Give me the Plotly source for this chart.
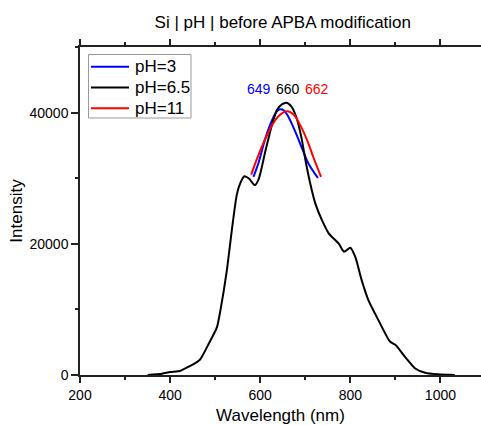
import plotly.graph_objects as go

# pH = 6.5 measured spectrum
wl_65 = [350, 382, 400, 423, 445, 456, 467, 486, 504, 512, 526, 537, 548, 556, 565, 575, 588, 597,
         611, 626, 637, 648, 659, 670, 681, 692, 701, 711, 722, 737, 752, 774, 786, 800, 811, 825,
         840, 862, 888, 901, 921, 944, 966, 995, 1032]
int_65 = [0, 200, 450, 650, 1400, 1800, 2400, 4800, 7300, 10000, 16000, 22100, 27500, 29300, 30300,
          29950, 28950, 29950, 34000, 38100, 40400, 41250, 41500, 40850, 39100, 36000, 32500, 29200,
          26200, 23600, 21600, 20050, 18800, 19400, 18000, 14500, 11400, 8400, 5100, 4550, 2800,
          1000, 350, 100, 0]

# pH = 3 fitted peak
wl_3 = [585, 597, 611, 626, 637, 644, 652, 663, 678, 693, 707, 728]
int_3 = [30200, 32500, 36000, 38800, 40200, 40500, 40350, 39300, 37050, 34500, 32250, 30050]

# pH = 11 fitted peak
wl_11 = [580, 593, 608, 626, 641, 660, 674, 689, 704, 719, 735]
int_11 = [30550, 33000, 35500, 38050, 39500, 40200, 39700, 38050, 35800, 33000, 30200]

series_names = ["pH=3", "pH=6.5", "pH=11"]
series_colors = ["#0000FF", "#000000", "#FF0000"]

peak_labels = ["649", "660", "662"]
peak_x = [597, 661, 727]

FONT = "Arial, 'Liberation Sans', sans-serif"

W, H = 481, 425
ML, MR, MT, MB = 80, 0, 47, 50
PW, PH = W - ML - MR, H - MT - MB


def px_x(p):
    return (p - ML) / PW


def px_y(p):
    return (H - MB - p) / PH


fig = go.Figure()
for xs, ys, nm, col in zip([wl_3, wl_65, wl_11], [int_3, int_65, int_11], series_names, series_colors):
    fig.add_trace(go.Scatter(x=xs, y=ys, mode="lines", name=nm, showlegend=False,
                             line=dict(color=col, width=2, shape="spline",
                                       smoothing=0.6 if nm == "pH=6.5" else 1)))

for lab, col, px in zip(peak_labels, series_colors, peak_x):
    fig.add_annotation(x=px, y=43550, text=lab, showarrow=False,
                       font=dict(family=FONT, size=14, color=col))

# legend box drawn in paper space
fig.add_shape(type="rect", xref="paper", yref="paper",
              x0=px_x(88.5), x1=px_x(191), y0=px_y(118), y1=px_y(54.5),
              line=dict(color="#999", width=1), fillcolor="white", layer="above")
leg_y = [66.7, 87.5, 108.3]
for nm, col, ly in zip(series_names, series_colors, leg_y):
    fig.add_shape(type="line", xref="paper", yref="paper",
                  x0=px_x(91), x1=px_x(129), y0=px_y(ly), y1=px_y(ly),
                  line=dict(color=col, width=2), layer="above")
    fig.add_annotation(xref="paper", yref="paper", x=px_x(133), y=px_y(ly), text=nm,
                       showarrow=False, xanchor="left", yanchor="middle",
                       font=dict(family=FONT, size=17, color="#000"))

fig.update_layout(
    width=W, height=H,
    margin=dict(l=ML, r=MR, t=MT, b=MB),
    paper_bgcolor="white", plot_bgcolor="white",
    font=dict(family=FONT, size=14, color="#000"),
    title=dict(text="Si | pH | before APBA modification", x=0.588, xanchor="center",
               y=0.948, yanchor="middle", font=dict(size=17)),
    showlegend=False,
)
fig.update_xaxes(range=[200, 1090], dtick=200, tick0=200, showline=True, linecolor="#222",
                 linewidth=1.5, mirror="ticks", ticks="outside", ticklen=6, tickwidth=1.5,
                 tickcolor="#222", showgrid=False, zeroline=False,
                 minor=dict(dtick=100, ticks="outside", ticklen=3, tickwidth=1.5, tickcolor="#222"),
                 title=dict(text="Wavelength (nm)", font=dict(size=17), standoff=12))
fig.update_yaxes(range=[0, 50000], dtick=20000, tick0=0, tickformat="d", showline=True,
                 linecolor="#222", linewidth=1.5, ticks="outside", ticklen=7, tickwidth=1.5,
                 tickcolor="#222", showgrid=False, zeroline=False,
                 minor=dict(dtick=10000, ticks="outside", ticklen=3, tickwidth=1.5, tickcolor="#222"),
                 title=dict(text="Intensity", font=dict(size=17), standoff=3))

fig.write_html("out.html")
